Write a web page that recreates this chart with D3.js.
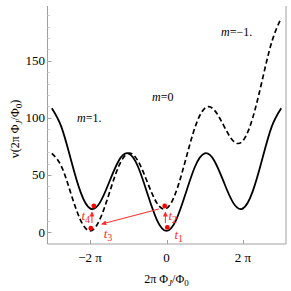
<!DOCTYPE html>
<html><head><meta charset="utf-8">
<script src="https://cdn.jsdelivr.net/npm/d3@7"></script>
<style>body{margin:0;background:#fff}svg{display:block}text{font-family:"Liberation Serif","DejaVu Serif",serif}</style>
</head><body><svg id="c" width="291" height="291"></svg>
<script>
// phase in units of pi
const phiPi = [-3,-2.75,-2.5,-2.25,-2,-1.75,-1.5,-1.25,-1,-0.75,-0.5,-0.25,0,0.25,0.5,0.75,1,1.25,1.5,1.75,2,2.25,2.5,2.75,3];
const vSolid = [108.4,92.1,63.3,35.2,20.7,25.3,43.6,62.5,68.9,57.6,33.7,10.5,1,10.5,33.7,57.6,68.9,62.5,43.6,25.3,20.7,35.2,63.3,92.1,108.4];
const vDashed = [68.9,57.6,33.7,10.5,1,10.5,33.7,57.6,68.9,62.5,43.6,25.3,20.7,35.2,63.3,92.1,108.4,106.9,93.0,79.6,80.0,99.4,132.4,166.1,187.4];
const yTicks = [0,50,100,150];
const yMinor = [10,20,30,40,60,70,80,90,110,120,130,140,160,170,180,190];
const xTicksPi = [-2,0,2];
const xTickLabels = ["\u22122 \u03c0","0","2 \u03c0"];
// red annotations (x in units of pi)
const dotXPi = [-1.9,-1.98,-0.047,0.021];
const dotV = [22.8,3.3,22.8,4.0];
const arrows = [ // [x0,v0,x1,v1]
  [-1.95,7.9,-1.95,17.5],
  [-0.03,7.9,-0.03,17.5],
  [-0.196,20.2,-1.694,7.0]
];
const tLabels = ["4","2","3","1"];
const tXPi = [-2.0,0.05,-1.53,0.32];
const tAnchor = ["end","start","middle","middle"];
const tV = [10.5,10.5,-5,-6.5];
const mLabels = [["1.",-7.35,96.5],["0",-1.19,115],["\u22121.",4.48,172]];

const svg = d3.select("#c");
const L=47.5, R=286, T=6, B=244;
const x = d3.scaleLinear().domain([-9.78,9.82]).range([L,R]);
const y = d3.scaleLinear().domain([-10.5,198]).range([B,T]);
const gray="#a0a0a0";

// frame
svg.append("line").attr("x1",L).attr("x2",L).attr("y1",T).attr("y2",B).attr("stroke",gray);
svg.append("line").attr("x1",R).attr("x2",R).attr("y1",T).attr("y2",B).attr("stroke",gray);
svg.append("line").attr("x1",L).attr("x2",R).attr("y1",B).attr("y2",B).attr("stroke",gray);

// y ticks
yTicks.forEach(t=>{
  svg.append("line").attr("x1",L).attr("x2",L+4).attr("y1",Math.round(y(t))+0.5).attr("y2",Math.round(y(t))+0.5).attr("stroke",gray);
  svg.append("text").attr("x",L-2.5).attr("y",y(t)+4.5).attr("text-anchor","end").attr("font-size",13).text(t);
});
yMinor.forEach(t=>{
  svg.append("line").attr("x1",L).attr("x2",L+2.5).attr("y1",Math.round(y(t))+0.5).attr("y2",Math.round(y(t))+0.5).attr("stroke","#cfcfcf");
});
xTicksPi.forEach((t,i)=>{
  const px=Math.round(x(t*Math.PI))+0.5;
  svg.append("line").attr("x1",px).attr("x2",px).attr("y1",B).attr("y2",B-4).attr("stroke",gray);
  svg.append("text").attr("x",x(t*Math.PI)).attr("y",262).attr("text-anchor","middle").attr("font-size",13).text(xTickLabels[i]);
});

// axis titles
const xt = svg.append("text").attr("x",x(0)).attr("y",283).attr("text-anchor","middle").attr("font-size",12);
xt.append("tspan").text("2\u03c0 \u03a6");
xt.append("tspan").attr("font-size",9).attr("font-style","italic").attr("dy",3).text("J");
xt.append("tspan").attr("dy",-3).text("/\u03a6");
xt.append("tspan").attr("font-size",9).attr("dy",3).text("0");
const yt = svg.append("text").attr("transform","translate(19,129) rotate(-90)").attr("text-anchor","middle").attr("font-size",12);
yt.append("tspan").text("v(2\u03c0 \u03a6");
yt.append("tspan").attr("font-size",9).attr("font-style","italic").attr("dy",3).text("J");
yt.append("tspan").attr("dy",-3).text("/\u03a6");
yt.append("tspan").attr("font-size",9).attr("dy",3).text("0");
yt.append("tspan").attr("dy",-3).text(")");

// curves
const line = d3.line().x((d,i)=>x(phiPi[i]*Math.PI)).y(d=>y(d)).curve(d3.curveNatural);
svg.append("path").attr("d",line(vDashed)).attr("fill","none").attr("stroke","#000").attr("stroke-width",1.7).attr("stroke-dasharray","5,3");
svg.append("path").attr("d",line(vSolid)).attr("fill","none").attr("stroke","#000").attr("stroke-width",1.8);

// m labels
mLabels.forEach(m=>{
  const t = svg.append("text").attr("x",x(m[1])).attr("y",y(m[2])).attr("font-size",12);
  t.append("tspan").attr("font-style","italic").text("m");
  t.append("tspan").text("="+m[0]);
});

// red annotations
const red="#ff2a2a";
const defs = svg.append("defs");
defs.append("marker").attr("id","ah").attr("viewBox","0 0 10 10").attr("refX",9).attr("refY",5)
  .attr("markerWidth",5).attr("markerHeight",5).attr("orient","auto")
  .append("path").attr("d","M0,0L10,5L0,10z").attr("fill",red);
arrows.forEach(a=>{
  svg.append("line").attr("x1",x(a[0]*Math.PI)).attr("y1",y(a[1])).attr("x2",x(a[2]*Math.PI)).attr("y2",y(a[3]))
    .attr("stroke",red).attr("stroke-width",1).attr("marker-end","url(#ah)");
});
dotXPi.forEach((d,i)=>{
  svg.append("circle").attr("cx",x(d*Math.PI)).attr("cy",y(dotV[i])).attr("r",2.4).attr("fill","#f00");
});
tLabels.forEach((s,i)=>{
  const t = svg.append("text").attr("x",x(tXPi[i]*Math.PI)).attr("y",y(tV[i])).attr("font-size",13).attr("fill",red).attr("text-anchor",tAnchor[i]);
  t.append("tspan").attr("font-style","italic").text("t");
  t.append("tspan").attr("font-size",10).attr("dy",3).text(s);
});
</script></body></html>
